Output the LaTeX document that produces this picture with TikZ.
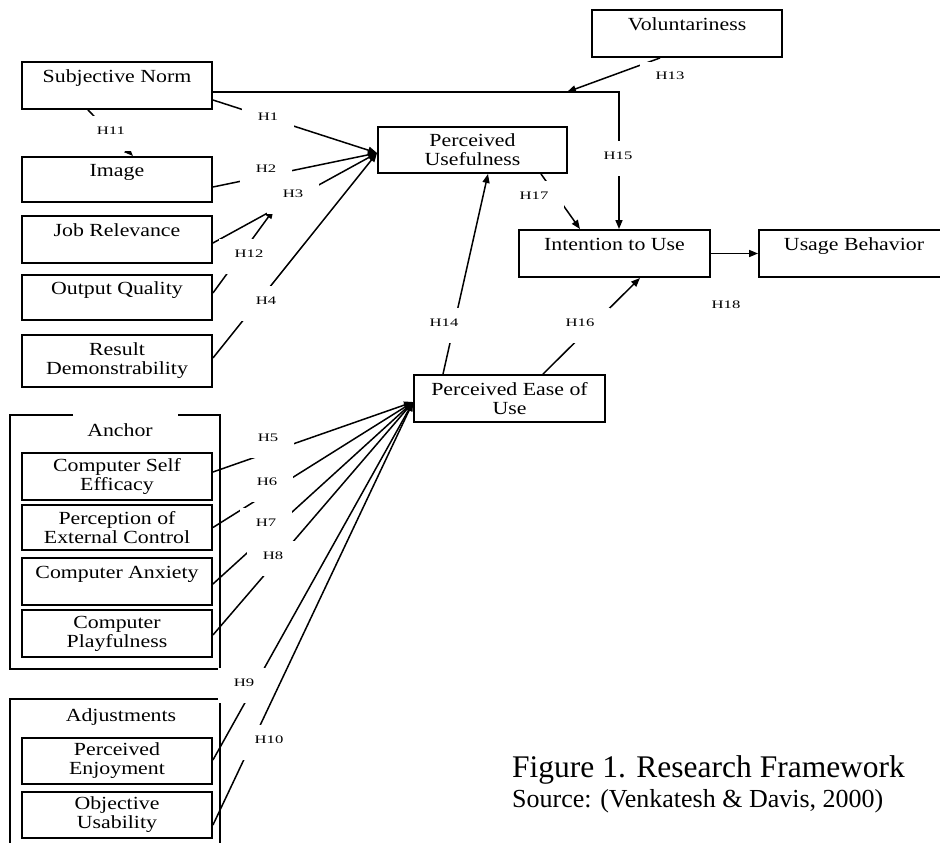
\documentclass[tikz,border=0pt]{standalone}
\usepackage{fontspec}
\setmainfont{Liberation Serif}
\newfontfamily\boxfont[FakeStretch=1.18]{Liberation Serif}
\newfontfamily\hypfont[FakeStretch=1.45]{Liberation Serif}
\usetikzlibrary{arrows.meta,calc}

\begin{document}
\begin{tikzpicture}[x=1pt,y=-1pt,
    box/.style={draw, line width=1.9pt, minimum width=190pt, minimum height=47pt,
        inner sep=2pt, align=center, font=\boxfont\fontsize{18.5}{19}\selectfont},
    grp/.style={line width=1.9pt},
    hyp/.style={fill=white, inner xsep=16pt, inner ysep=6pt, text height=12pt,
        text depth=11pt, anchor=base, font=\hypfont\fontsize{11.5}{12}\selectfont},
    arr/.style={line width=1.5pt, -{Triangle[length=9pt,width=7pt]}}]
    \useasboundingbox (0,0) rectangle (940,843);

    % left column
    \node[box] (sn)  at (117,85.5)                     {Subjective Norm\\\mbox{}};
    \node[box, minimum height=45pt] (img) at (117,179.5) {Image\\\mbox{}};
    \node[box] (jr)  at (117,239.5)                    {Job Relevance\\\mbox{}};
    \node[box, minimum height=45pt] (oq)  at (117,297.5) {Output Quality\\\mbox{}};
    \node[box, minimum height=52pt] (rd)  at (117,361)   {Result\\Demonstrability};

    % anchor group
    \draw[grp] (73,415) -- (10,415) -- (10,669) -- (220,669) -- (220,415) -- (178,415);
    \node[font=\boxfont\fontsize{18.5}{19}\selectfont] (anchor) at (120,430) {Anchor};
    \node[box] (cse) at (117,476.5)                    {Computer Self\\Efficacy};
    \node[box, minimum height=45pt] (pec) at (117,527.5) {Perception of\\External Control};
    \node[box] (ca)  at (117,581.5)                    {Computer Anxiety\\\mbox{}};
    \node[box] (cp)  at (117,633.5)                    {Computer\\Playfulness};

    % adjustments group
    \draw[grp] (10,850) -- (10,699) -- (220,699) -- (220,850);
    \node[font=\boxfont\fontsize{18.5}{19}\selectfont] (adj) at (121,717) {Adjustments};
    \node[box, minimum height=46pt] (pe) at (117,761) {Perceived\\Enjoyment};
    \node[box, minimum height=46pt] (ou) at (117,815) {Objective\\Usability};

    % core model
    \node[box, minimum width=189pt, minimum height=46pt] (pu) at (472.5,150) {Perceived\\Usefulness};
    \node[box] (vol)  at (687,33.5)    {Voluntariness\\\mbox{}};
    \node[box, minimum width=191pt] (itu)  at (614.5,253.5) {Intention to Use\\\mbox{}};
    \node[box] (ub)   at (854,253.5)   {Usage Behavior\\\mbox{}};
    \node[box, minimum width=191pt] (peou) at (509.5,398.5) {Perceived Ease of\\Use};

    \coordinate (pu-in) at ([yshift=-3pt]pu.west);
    \coordinate (peou-in) at ([yshift=-3.5pt]peou.west);
    \coordinate (jr-out) at ([yshift=-3.5pt]jr.east);
    \coordinate (h12-tip) at ($(jr-out)!0.37!(pu-in)$);
    \coordinate (h13-tip) at (567,92);

    % into perceived usefulness
    \draw[arr] ([yshift=-14.5pt]sn.east) -- (pu-in);
    \draw[arr] ([yshift=-7.5pt]img.east) -- (pu-in);
    \draw[arr] (jr-out) -- (pu-in);
    \draw[arr] ([yshift=3pt]rd.east) -- (pu-in);
    \draw[arr] ([yshift=4.5pt]oq.east) -- (h12-tip);
    \draw[arr] ([xshift=-29pt]sn.south) -- ([xshift=16pt]img.north);

    % into perceived ease of use
    \draw[arr] ([yshift=4.5pt]cse.east) -- (peou-in);
    \draw[arr] (pec.east) -- (peou-in);
    \draw[arr] ([yshift=-2.5pt]ca.east) -- (peou-in);
    \draw[arr] ([yshift=-1.5pt]cp.east) -- (peou-in);
    \draw[arr] ([yshift=1pt]pe.east) -- (peou-in);
    \draw[arr] ([yshift=-10pt]ou.east) -- (peou-in);

    % intention and usage
    \draw[arr] ([xshift=-66.5pt]peou.north) -- ([xshift=15.5pt]pu.south);
    \draw[arr] ([xshift=33.5pt]peou.north) -- ([xshift=25.5pt]itu.south);
    \draw[arr] ([xshift=68.5pt]pu.south) -- ([xshift=-34.5pt]itu.north);
    \draw[arr] ([yshift=-6.5pt]sn.east) -| ([xshift=4.5pt]itu.north);
    \draw[arr] ([xshift=-27pt]vol.south) -- (h13-tip);
    \draw[arr] (itu.east) -- (ub.west);

    % hypothesis labels
    \node[hyp] (h1)  at (268,121) {H1};
    \node[hyp] (h2)  at (266,172) {H2};
    \node[hyp] (h3)  at (293,197) {H3};
    \node[hyp] (h4)  at (266,304) {H4};
    \node[hyp] (h5)  at (268,441) {H5};
    \node[hyp] (h6)  at (267,485) {H6};
    \node[hyp] (h7)  at (266,526) {H7};
    \node[hyp] (h8)  at (273,559) {H8};
    \node[hyp] (h9)  at (244,686) {H9};
    \node[hyp] (h10) at (269,743) {H10};
    \node[hyp] (h11) at (111,134) {H11};
    \node[hyp] (h12) at (249,257) {H12};
    \node[hyp] (h13) at (670,80)  {H13};
    \node[hyp] (h14) at (444,326) {H14};
    \node[hyp] (h15) at (618,159) {H15};
    \node[hyp] (h16) at (580,326) {H16};
    \node[hyp] (h17) at (534,199) {H17};
    \node[hyp] (h18) at (726,308) {H18};

    % caption
    \node[anchor=base west, inner sep=0pt, font=\fontsize{31.5}{36}\selectfont] (fig) at (512,777) {Figure 1. Research Framework};
    \node[anchor=base west, inner sep=0pt, font=\fontsize{26}{30}\selectfont] (src) at (512,807) {Source: (Venkatesh \& Davis, 2000)};
\end{tikzpicture}
\end{document}
